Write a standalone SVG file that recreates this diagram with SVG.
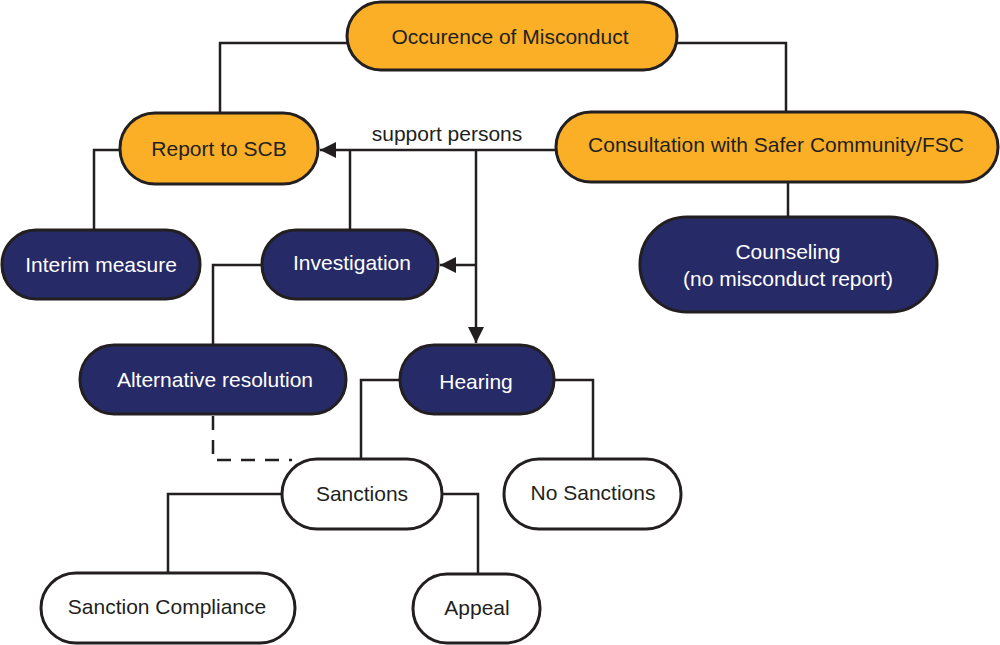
<svg xmlns="http://www.w3.org/2000/svg" width="1000" height="645" viewBox="0 0 1000 645">
<defs>
<style>
.o{fill:#FAAF26;stroke:#231F20;stroke-width:3}
.n{fill:#262A67;stroke:#231F20;stroke-width:3}
.w{fill:#FFFFFF;stroke:#231F20;stroke-width:3}
.t{font-family:"Liberation Sans",Arial,sans-serif;font-size:21px;text-anchor:middle}
.d{fill:#231F20}
.l{fill:#FFFFFF}
.c{fill:none;stroke:#231F20;stroke-width:2.5}
</style>
<marker id="ah" viewBox="0 0 10 10" refX="10" refY="5" markerWidth="16" markerHeight="16" markerUnits="userSpaceOnUse" orient="auto">
<path d="M0,0 L10,5 L0,10 Z" fill="#231F20"/>
</marker>
</defs>
<rect width="1000" height="645" fill="#FFFFFF"/>
<g id="connectors">
<polyline class="c" points="347,43 220,43 220,113"/>
<polyline class="c" points="677,43 786,43 786,112"/>
<line class="c" x1="556" y1="150" x2="320" y2="150" marker-end="url(#ah)"/>
<line class="c" x1="350" y1="150" x2="350" y2="230"/>
<line class="c" x1="476" y1="150" x2="476" y2="343" marker-end="url(#ah)"/>
<line class="c" x1="476" y1="265" x2="440" y2="265" marker-end="url(#ah)"/>
<polyline class="c" points="120,150 94,150 94,230"/>
<line class="c" x1="788" y1="182" x2="788" y2="217"/>
<polyline class="c" points="262,265 213,265 213,345"/>
<polyline class="c" points="400,380 361,380 361,459"/>
<polyline class="c" points="554,380 593,380 593,459"/>
<polyline class="c" points="213,416 213,460 292,460" stroke-dasharray="14 10"/>
<polyline class="c" points="282,494 168,494 168,573"/>
<polyline class="c" points="442,494 478,494 478,574"/>
<text class="t d" x="447" y="141">support persons</text>
</g>
<g id="occurence">
<rect class="o" x="347" y="2" width="330" height="68" rx="34"/>
<text class="t d" x="510" y="44">Occurence of Misconduct</text>
</g>
<g id="report">
<rect class="o" x="120" y="113" width="198" height="71" rx="35"/>
<text class="t d" x="219" y="156">Report to SCB</text>
</g>
<g id="consultation">
<rect class="o" x="556" y="112" width="442" height="70" rx="35"/>
<text class="t d" x="776" y="152">Consultation with Safer Community/FSC</text>
</g>
<g id="interim">
<rect class="n" x="2" y="230" width="198" height="69" rx="34"/>
<text class="t l" x="101" y="272">Interim measure</text>
</g>
<g id="investigation">
<rect class="n" x="262" y="230" width="176" height="69" rx="34"/>
<text class="t l" x="352" y="270">Investigation</text>
</g>
<g id="counseling">
<rect class="n" x="640" y="217" width="297" height="95" rx="47"/>
<text class="t l" x="788" y="259">Counseling</text>
<text class="t l" x="788" y="286">(no misconduct report)</text>
</g>
<g id="alternative">
<rect class="n" x="80" y="345" width="266" height="69" rx="34"/>
<text class="t l" x="215" y="387">Alternative resolution</text>
</g>
<g id="hearing">
<rect class="n" x="400" y="345" width="154" height="69" rx="34"/>
<text class="t l" x="476" y="389">Hearing</text>
</g>
<g id="sanctions">
<rect class="w" x="282" y="459" width="160" height="70" rx="35"/>
<text class="t d" x="362" y="501">Sanctions</text>
</g>
<g id="nosanctions">
<rect class="w" x="504" y="459" width="177" height="70" rx="35"/>
<text class="t d" x="593" y="500">No Sanctions</text>
</g>
<g id="compliance">
<rect class="w" x="41" y="573" width="254" height="70" rx="35"/>
<text class="t d" x="167" y="614">Sanction Compliance</text>
</g>
<g id="appeal">
<rect class="w" x="413" y="574" width="127" height="69" rx="34"/>
<text class="t d" x="477" y="615">Appeal</text>
</g>
</svg>
